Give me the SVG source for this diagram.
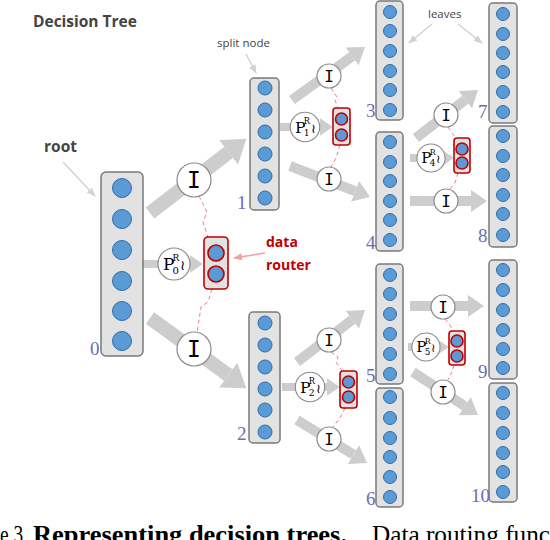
<svg xmlns="http://www.w3.org/2000/svg" width="550" height="540" viewBox="0 0 550 540">
<style>
.box{fill:#e2e2e2;stroke:#7a7a7a;stroke-width:1.5}
.dot{fill:#5b9bd5;stroke:#2f6ca8;stroke-width:1}
.rbox{fill:#e2e2e2;stroke:#c00000;stroke-width:1.6}
.rdot{fill:#5b9bd5;stroke:#c00000;stroke-width:1.6}
.big{stroke:#cdcdcd;stroke-width:14;fill:none;marker-end:url(#head)}
.sm{stroke:#cdcdcd;stroke-width:10;fill:none;marker-end:url(#head)}
.pa{stroke:#cdcdcd;stroke-width:8;fill:none;marker-end:url(#head)}
.dash{stroke:#f08080;stroke-width:1;fill:none;stroke-dasharray:4 3}
.ptr{stroke:#d2d2d2;stroke-width:1.5;fill:none;marker-end:url(#ptrhead)}
.circ{fill:#fff;stroke:#8a8a8a;stroke-width:1.2}
.I{font-family:"DejaVu Sans Mono",monospace;text-anchor:middle;fill:#000}
.P{font-family:"DejaVu Serif",serif;fill:#000}
.num{font-family:"Liberation Serif",serif;font-size:19px;fill:#6c6cb4}
.lbl{font-family:"Open Sans","Liberation Sans",sans-serif;fill:#444}
.cap{font-family:"Liberation Serif",serif;font-size:26px;fill:#000}
</style>
<defs>
<marker id="head" viewBox="0 0 16 22" refX="0" refY="11" markerWidth="1.6" markerHeight="2.2" markerUnits="strokeWidth" orient="auto">
<path d="M0,0 L16,11 L0,22 z" fill="#cdcdcd"/>
</marker>
<marker id="ptrhead" viewBox="0 0 10 10" refX="9" refY="5" markerWidth="6" markerHeight="6" markerUnits="strokeWidth" orient="auto">
<path d="M0,1 L10,5 L0,9 z" fill="#d2d2d2"/>
</marker>
<marker id="redhead" viewBox="0 0 10 10" refX="9" refY="5" markerWidth="6" markerHeight="6" markerUnits="strokeWidth" orient="auto">
<path d="M0,1 L10,5 L0,9 z" fill="#f2a0a0"/>
</marker>
</defs>

<g id="labels">
<text x="33" y="27" class="lbl" font-size="15.5" font-weight="bold" fill="#222">Decision Tree</text>
<text x="44" y="152" class="lbl" font-size="15.5" font-weight="bold" fill="#333">root</text>
<text x="217" y="47" class="lbl" font-size="11.5">split node</text>
<text x="428" y="18" class="lbl" font-size="11.5">leaves</text>
<text x="266" y="247" font-family="Open Sans, Liberation Sans, sans-serif" font-size="14" font-weight="bold" fill="#c00000">data</text>
<text x="266" y="270" font-family="Open Sans, Liberation Sans, sans-serif" font-size="14" font-weight="bold" fill="#c00000">router</text>
</g>

<g id="connectors">
<line class="big" x1="150" y1="213" x2="228.6" y2="152.4"/>
<line class="big" x1="150" y1="318" x2="228.2" y2="375"/>
<line class="pa" x1="143" y1="264" x2="190" y2="264"/>
<line class="sm" x1="292" y1="100" x2="352.1" y2="56.4"/>
<line class="sm" x1="290" y1="166" x2="355.1" y2="191.2"/>
<line class="pa" x1="280" y1="127" x2="320" y2="127"/>
<line class="sm" x1="416" y1="138" x2="465.3" y2="99.8"/>
<line class="sm" x1="410" y1="201" x2="471" y2="201"/>
<line class="pa" x1="410" y1="158" x2="441" y2="158"/>
<line class="sm" x1="297" y1="362" x2="352.3" y2="319.7"/>
<line class="sm" x1="297" y1="420" x2="353.4" y2="454.6"/>
<line class="pa" x1="282" y1="387" x2="327" y2="387"/>
<line class="sm" x1="410" y1="306" x2="468" y2="306"/>
<line class="sm" x1="413" y1="372" x2="464.7" y2="406.2"/>
<line class="pa" x1="408" y1="347" x2="436" y2="347"/>
<polyline class="dash" points="199,196 207,212 203,222 208,237"/>
<polyline class="dash" points="212,289 208,302 201,307 197,333"/>
<polyline class="dash" points="331,88 337,97 335,100 338,108"/>
<polyline class="dash" points="340,145 336,158 331,167"/>
<polyline class="dash" points="448,127 452,133 456,138"/>
<polyline class="dash" points="458,173 455,183 450,189"/>
<polyline class="dash" points="331,352 338,357 336,362 342,371"/>
<polyline class="dash" points="345,408 340,418 333,427"/>
<polyline class="dash" points="445,319 450,325 453,331"/>
<polyline class="dash" points="454,365 452,372 448,380"/>
<line class="ptr" x1="63" y1="162" x2="95" y2="196"/>
<line class="ptr" x1="246" y1="54" x2="256" y2="73"/>
<line class="ptr" x1="432" y1="24" x2="409" y2="43"/>
<line class="ptr" x1="458" y1="24" x2="482" y2="43"/>
<line stroke="#f2a0a0" stroke-width="1.5" marker-end="url(#redhead)" x1="265" y1="253" x2="234" y2="258"/>
</g>

<g id="gates">
<g transform="translate(194,180)"><circle class="circ" r="17"/><text class="I" y="8" font-size="23">I</text></g>
<g transform="translate(194,349)"><circle class="circ" r="17"/><text class="I" y="8" font-size="23">I</text></g>
<g transform="translate(329,76)"><circle class="circ" r="12"/><text class="I" y="5.5" font-size="16">I</text></g>
<g transform="translate(329,179)"><circle class="circ" r="12"/><text class="I" y="5.5" font-size="16">I</text></g>
<g transform="translate(446,115)"><circle class="circ" r="12"/><text class="I" y="5.5" font-size="16">I</text></g>
<g transform="translate(446,201)"><circle class="circ" r="12"/><text class="I" y="5.5" font-size="16">I</text></g>
<g transform="translate(329,340)"><circle class="circ" r="12"/><text class="I" y="5.5" font-size="16">I</text></g>
<g transform="translate(329,439)"><circle class="circ" r="12"/><text class="I" y="5.5" font-size="16">I</text></g>
<g transform="translate(443,307)"><circle class="circ" r="12"/><text class="I" y="5.5" font-size="16">I</text></g>
<g transform="translate(443,392)"><circle class="circ" r="12"/><text class="I" y="5.5" font-size="16">I</text></g>
</g>

<g id="routing-functions">
<g transform="translate(174,264)"><circle class="circ" r="16"/><text class="P" x="-11" y="6" font-size="17">P</text><text class="P" x="-1.5" y="-3" font-size="9">R</text><text class="P" x="-1.5" y="9.5" font-size="10">0</text><text class="P" x="6" y="6" font-size="14">≀</text></g>
<g transform="translate(305,127) scale(0.92)"><circle class="circ" r="16"/><text class="P" x="-11" y="6" font-size="17">P</text><text class="P" x="-1.5" y="-3" font-size="9">R</text><text class="P" x="-1.5" y="9.5" font-size="10">1</text><text class="P" x="6" y="6" font-size="14">≀</text></g>
<g transform="translate(431,158) scale(0.88)"><circle class="circ" r="16"/><text class="P" x="-11" y="6" font-size="17">P</text><text class="P" x="-1.5" y="-3" font-size="9">R</text><text class="P" x="-1.5" y="9.5" font-size="10">4</text><text class="P" x="6" y="6" font-size="14">≀</text></g>
<g transform="translate(310,387) scale(0.92)"><circle class="circ" r="16"/><text class="P" x="-11" y="6" font-size="17">P</text><text class="P" x="-1.5" y="-3" font-size="9">R</text><text class="P" x="-1.5" y="9.5" font-size="10">2</text><text class="P" x="6" y="6" font-size="14">≀</text></g>
<g transform="translate(426,347) scale(0.88)"><circle class="circ" r="16"/><text class="P" x="-11" y="6" font-size="17">P</text><text class="P" x="-1.5" y="-3" font-size="9">R</text><text class="P" x="-1.5" y="9.5" font-size="10">5</text><text class="P" x="6" y="6" font-size="14">≀</text></g>
</g>

<g id="router0"><rect class="rbox" x="204" y="237" width="24" height="52" rx="4"/><circle class="rdot" cx="216" cy="253" r="8"/><circle class="rdot" cx="216" cy="274" r="8"/></g>
<g id="router1"><rect class="rbox" x="333" y="108" width="17" height="37" rx="3"/><circle class="rdot" cx="341.5" cy="119" r="6"/><circle class="rdot" cx="341.5" cy="135" r="6"/></g>
<g id="router4"><rect class="rbox" x="454" y="138" width="16" height="35" rx="3"/><circle class="rdot" cx="462" cy="149" r="6"/><circle class="rdot" cx="462" cy="163" r="6"/></g>
<g id="router2"><rect class="rbox" x="340" y="371" width="17" height="37" rx="3"/><circle class="rdot" cx="348.5" cy="382" r="6"/><circle class="rdot" cx="348.5" cy="397" r="6"/></g>
<g id="router5"><rect class="rbox" x="449" y="331" width="16" height="34" rx="3"/><circle class="rdot" cx="457" cy="341" r="6"/><circle class="rdot" cx="457" cy="356" r="6"/></g>

<g id="node0"><rect class="box" x="101" y="172" width="42" height="184" rx="5"/>
<circle class="dot" cx="122" cy="188" r="9.5"/><circle class="dot" cx="122" cy="219" r="9.5"/><circle class="dot" cx="122" cy="250" r="9.5"/><circle class="dot" cx="122" cy="281" r="9.5"/><circle class="dot" cx="122" cy="311" r="9.5"/><circle class="dot" cx="122" cy="341" r="9.5"/>
<text class="num" x="90" y="355">0</text></g>

<g id="node1"><rect class="box" x="250" y="78" width="29" height="132" rx="4"/>
<circle class="dot" cx="265" cy="88" r="7"/><circle class="dot" cx="265" cy="110" r="7"/><circle class="dot" cx="265" cy="132" r="7"/><circle class="dot" cx="265" cy="154" r="7"/><circle class="dot" cx="265" cy="176" r="7"/><circle class="dot" cx="265" cy="198" r="7"/>
<text class="num" x="237" y="209">1</text></g>

<g id="node2"><rect class="box" x="249" y="312" width="31" height="131" rx="4"/>
<circle class="dot" cx="265" cy="323" r="7"/><circle class="dot" cx="265" cy="345" r="7"/><circle class="dot" cx="265" cy="367" r="7"/><circle class="dot" cx="265" cy="389" r="7"/><circle class="dot" cx="265" cy="410" r="7"/><circle class="dot" cx="265" cy="432" r="7"/>
<text class="num" x="237" y="440">2</text></g>

<g id="node3"><rect class="box" x="376" y="1" width="27" height="119" rx="4"/>
<circle class="dot" cx="390" cy="12" r="6.5"/><circle class="dot" cx="390" cy="31" r="6.5"/><circle class="dot" cx="390" cy="51" r="6.5"/><circle class="dot" cx="390" cy="71" r="6.5"/><circle class="dot" cx="390" cy="90" r="6.5"/><circle class="dot" cx="390" cy="110" r="6.5"/>
<text class="num" x="366" y="117">3</text></g>

<g id="node4"><rect class="box" x="376" y="132" width="27" height="119" rx="4"/>
<circle class="dot" cx="390" cy="142" r="6.5"/><circle class="dot" cx="390" cy="162" r="6.5"/><circle class="dot" cx="390" cy="181" r="6.5"/><circle class="dot" cx="390" cy="201" r="6.5"/><circle class="dot" cx="390" cy="220" r="6.5"/><circle class="dot" cx="390" cy="240" r="6.5"/>
<text class="num" x="366" y="249">4</text></g>

<g id="node5"><rect class="box" x="376" y="264" width="27" height="120" rx="4"/>
<circle class="dot" cx="390" cy="275" r="6.5"/><circle class="dot" cx="390" cy="294" r="6.5"/><circle class="dot" cx="390" cy="314" r="6.5"/><circle class="dot" cx="390" cy="334" r="6.5"/><circle class="dot" cx="390" cy="354" r="6.5"/><circle class="dot" cx="390" cy="374" r="6.5"/>
<text class="num" x="366" y="382">5</text></g>

<g id="node6"><rect class="box" x="376" y="388" width="27" height="119" rx="4"/>
<circle class="dot" cx="390" cy="397" r="6.5"/><circle class="dot" cx="390" cy="418" r="6.5"/><circle class="dot" cx="390" cy="438" r="6.5"/><circle class="dot" cx="390" cy="457" r="6.5"/><circle class="dot" cx="390" cy="477" r="6.5"/><circle class="dot" cx="390" cy="497" r="6.5"/>
<text class="num" x="366" y="505">6</text></g>

<g id="node7"><rect class="box" x="489" y="3" width="28" height="120" rx="4"/>
<circle class="dot" cx="503" cy="14" r="6.5"/><circle class="dot" cx="503" cy="34" r="6.5"/><circle class="dot" cx="503" cy="53" r="6.5"/><circle class="dot" cx="503" cy="72" r="6.5"/><circle class="dot" cx="503" cy="92" r="6.5"/><circle class="dot" cx="503" cy="112" r="6.5"/>
<text class="num" x="478" y="118">7</text></g>

<g id="node8"><rect class="box" x="489" y="126" width="28" height="121" rx="4"/>
<circle class="dot" cx="503" cy="136" r="6.5"/><circle class="dot" cx="503" cy="156" r="6.5"/><circle class="dot" cx="503" cy="175" r="6.5"/><circle class="dot" cx="503" cy="195" r="6.5"/><circle class="dot" cx="503" cy="214" r="6.5"/><circle class="dot" cx="503" cy="235" r="6.5"/>
<text class="num" x="478" y="242">8</text></g>

<g id="node9"><rect class="box" x="489" y="260" width="28" height="119" rx="4"/>
<circle class="dot" cx="503" cy="270" r="6.5"/><circle class="dot" cx="503" cy="290" r="6.5"/><circle class="dot" cx="503" cy="310" r="6.5"/><circle class="dot" cx="503" cy="330" r="6.5"/><circle class="dot" cx="503" cy="349" r="6.5"/><circle class="dot" cx="503" cy="368" r="6.5"/>
<text class="num" x="478" y="378">9</text></g>

<g id="node10"><rect class="box" x="489" y="383" width="28" height="119" rx="4"/>
<circle class="dot" cx="503" cy="393" r="6.5"/><circle class="dot" cx="503" cy="413" r="6.5"/><circle class="dot" cx="503" cy="433" r="6.5"/><circle class="dot" cx="503" cy="453" r="6.5"/><circle class="dot" cx="503" cy="472" r="6.5"/><circle class="dot" cx="503" cy="492" r="6.5"/>
<text class="num" x="471" y="502">10</text></g>

<g id="caption">
<text class="cap" x="0" y="543" textLength="28" lengthAdjust="spacingAndGlyphs">e 3.</text>
<text class="cap" x="33" y="543" font-weight="bold" textLength="314" lengthAdjust="spacingAndGlyphs">Representing decision trees.</text>
<text class="cap" x="372" y="543" textLength="178" lengthAdjust="spacingAndGlyphs">Data routing func</text>
</g>
</svg>
